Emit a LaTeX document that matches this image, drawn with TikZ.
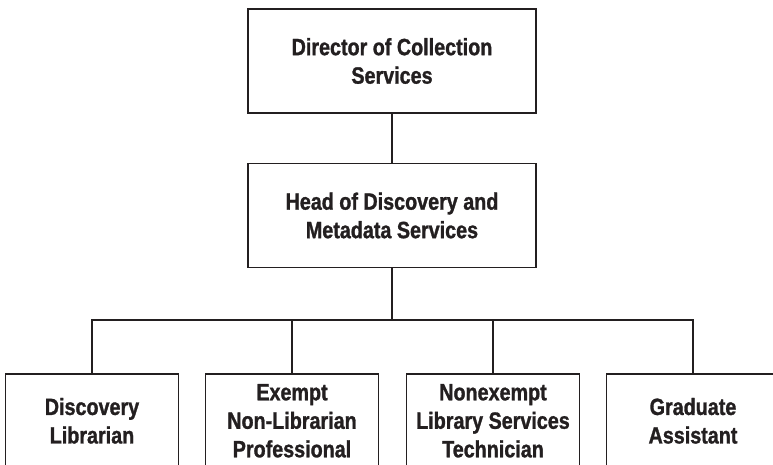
\documentclass[tikz,border=0pt]{standalone}
\usepackage{fontspec}
\setmainfont{Liberation Sans}[FakeStretch=0.84, BoldFeatures={FakeBold=1.2}]
\definecolor{ink}{RGB}{35,31,32}
\begin{document}
\begin{tikzpicture}[x=1pt,y=1pt,
  box/.style={draw=ink, line width=1.6pt, rectangle, align=center, inner sep=0pt,
    font=\fontsize{23.5}{28.5}\selectfont\bfseries, text=ink},
  topbox/.style={box, minimum width=288pt, minimum height=104pt},
  lowbox/.style={box, minimum width=173pt, minimum height=94pt},
  link/.style={draw=ink, line width=1.6pt}]
\clip (0,0) rectangle (773,-464);
\fill[white] (0,0) rectangle (773,-464);
\node[topbox] (dir) at (392,-61) {Director of Collection\\Services};
\node[topbox] (head) at (392,-215.5) {Head of Discovery and\\Metadata Services};
\node[lowbox, anchor=north] (c1) at (92,-373) {Discovery\\Librarian};
\node[lowbox, anchor=north] (c2) at (292,-373) {Exempt\\Non-Librarian\\Professional};
\node[lowbox, anchor=north] (c3) at (493,-373) {Nonexempt\\Library Services\\Technician};
\node[lowbox, anchor=north] (c4) at (693,-373) {Graduate\\Assistant};
\coordinate (bus) at (392,-320);
\draw[link] (dir.south) -- (head.north);
\draw[link] (head.south) -- (bus);
\draw[link] (bus) -| (c1.north);
\draw[link] (bus) -| (c2.north);
\draw[link] (bus) -| (c3.north);
\draw[link] (bus) -| (c4.north);
\end{tikzpicture}
\end{document}
